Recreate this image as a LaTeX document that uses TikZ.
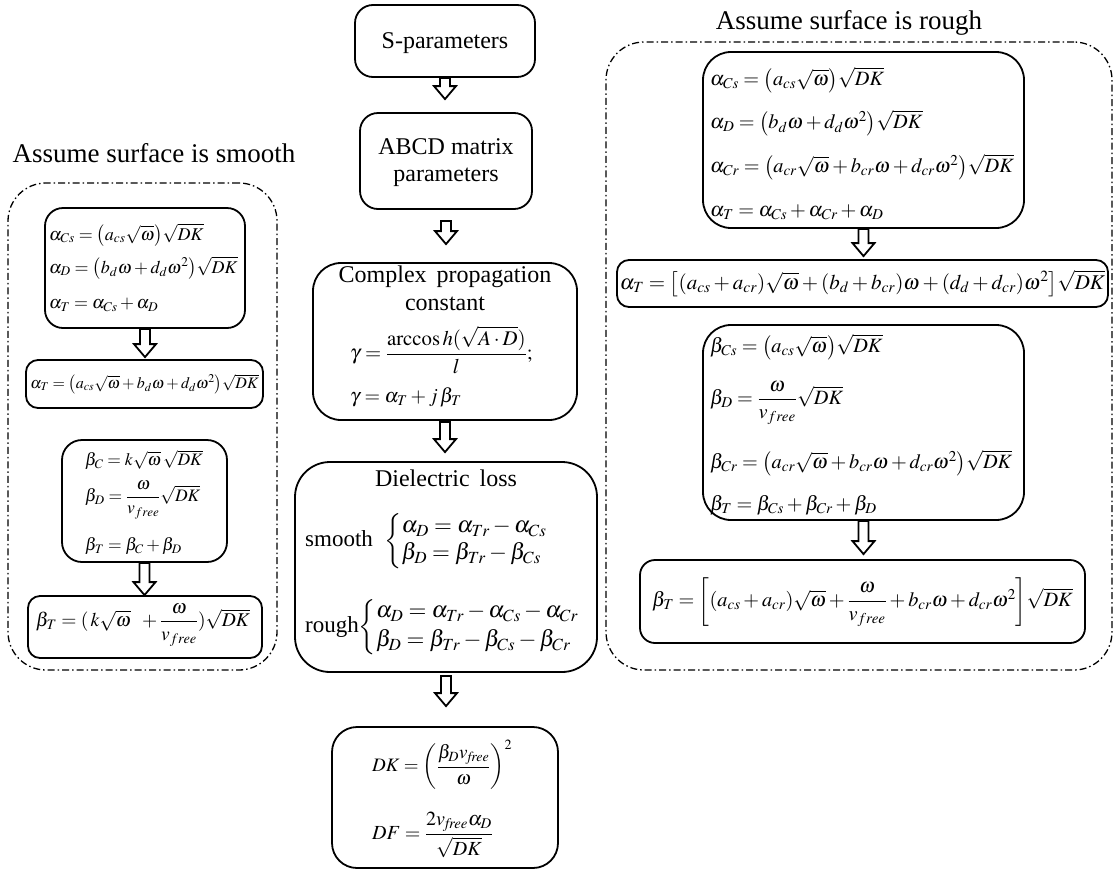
\documentclass[tikz,border=0pt]{standalone}
\usepackage{amsmath}
\usepackage{mathptmx}
\usepackage{fontspec}
\setmainfont{Liberation Serif}
\usetikzlibrary{calc}
\tikzset{
  fbox/.style={draw, line width=1.8pt, rounded corners=#1, inner sep=0pt},
  fbox/.default=18pt,
  region/.style={draw, line width=1.3pt, dash pattern=on 7pt off 3pt on 1.5pt off 3pt, rounded corners=38pt, inner sep=0pt},
  ttl/.style={font=\fontsize{27}{32}\selectfont, inner sep=0pt},
  lbl/.style={font=\fontsize{24}{27}\selectfont, align=center, inner sep=0pt},
  eqL/.style={font=\fontsize{18}{22}\selectfont, inner sep=0pt},
  eqR/.style={font=\fontsize{20.3}{24}\selectfont, inner sep=0pt},
  eqC/.style={font=\fontsize{24}{28}\selectfont, inner sep=0pt},
  blockar/.style={draw, line width=1.8pt, fill=white, line join=miter},
}
\newcommand\blockarrow[4]{%
  \draw[blockar] let \p1=(#1.south), \p2=(#2.north) in
  (\x1-5pt,\y1-#3pt) -- (\x1-5pt,\y2+#4pt+13pt) -- (\x1-11pt,\y2+#4pt+13pt) --
  (\x1,\y2+#4pt) -- (\x1+11pt,\y2+#4pt+13pt) -- (\x1+5pt,\y2+#4pt+13pt) --
  (\x1+5pt,\y1-#3pt) -- cycle;}
\begin{document}
\begin{tikzpicture}[x=1pt,y=-1pt]
\useasboundingbox (0,0) rectangle (1115,873);
% titles and regions
\node[ttl] (tl) at (154,153) {Assume surface is smooth};
\node[ttl] (tr) at (849,23) {Assume surface is rough};
\node[region, minimum width=269, minimum height=487] (DL) at (142.5,426.5) {};
\node[region, minimum width=506, minimum height=628] (DR) at (859,356) {};
% left column
\node[fbox, minimum width=200, minimum height=120] (L1) at (145,268) {};
\node[eqL, anchor=west] (l1a) at (49,235) {$\alpha_{Cs}={\left(a_{cs}\sqrt{\omega}\right)}\sqrt{DK}$};
\node[eqL, anchor=west] (l1b) at (49,268) {$\alpha_{D}={\left(b_{d}\omega+d_{d}\omega^{2}\right)}\sqrt{DK}$};
\node[eqL, anchor=west] (l1c) at (49,305) {$\alpha_{T}=\alpha_{Cs}+\alpha_{D}$};
\node[fbox=12pt, minimum width=237, minimum height=48] (L2) at (144.5,384) {};
\node[eqL, font=\fontsize{16}{19}\selectfont] (l2a) at (144.5,384) {$\alpha_{T}={\left(a_{cs}\sqrt{\omega}+b_{d}\omega+d_{d}\omega^{2}\right)}\sqrt{DK}$};
\node[fbox=20pt, minimum width=165, minimum height=122] (L3) at (144.5,501) {};
\node[eqL, anchor=west, font=\fontsize{17.5}{21}\selectfont] (l3a) at (85,460) {$\beta_{C}=k\sqrt{\omega}\,\sqrt{DK}$};
\node[eqL, anchor=west, font=\fontsize{17.5}{21}\selectfont] (l3b) at (85,500) {$\beta_{D}=\dfrac{\omega}{v_{free}}\sqrt{DK}$};
\node[eqL, anchor=west, font=\fontsize{17.5}{21}\selectfont] (l3c) at (85,546) {$\beta_{T}=\beta_{C}+\beta_{D}$};
\node[fbox=12pt, minimum width=234, minimum height=62] (L4) at (145,627) {};
\node[eqL, font=\fontsize{19.5}{23}\selectfont] (l4a) at (143,625) {$\beta_{T}=(\,k\sqrt{\omega}\;\;+\dfrac{\omega}{v_{free}})\sqrt{DK}$};
% centre column
\node[fbox, minimum width=180, minimum height=72] (C1) at (445,41) {};
\node[lbl] (c1a) at (445,43) {S-parameters};
\node[fbox, minimum width=172, minimum height=96] (C2) at (446,161) {};
\node[lbl] (c2a) at (446,163) {ABCD matrix\\parameters};
\node[fbox=28pt, minimum width=264, minimum height=157] (C3) at (445,341.5) {};
\node[lbl] (c3a) at (445,277) {Complex\, propagation};
\node[lbl] (c3b) at (445,304) {constant};
\node[eqR, anchor=west, font=\fontsize{20.8}{24}\selectfont] (c3c) at (350,350) {$\gamma=\dfrac{\mathrm{arccos}\,h(\sqrt{A\cdot D})}{l};$};
\node[eqR, anchor=west, font=\fontsize{20}{24}\selectfont] (c3d) at (350,397) {$\gamma=\alpha_{T}+j\,\beta_{T}$};
\node[fbox=35pt, minimum width=302, minimum height=210] (C4) at (446,567) {};
\node[lbl] (c4a) at (446,478) {Dielectric\, loss};
\node[eqC, anchor=west] (c4b) at (305,541) {\fontsize{23}{27}\selectfont smooth\ \ $\left\{\begin{array}{@{}l@{}}\alpha_{D}=\alpha_{Tr}-\alpha_{Cs}\\ \beta_{D}=\beta_{Tr}-\beta_{Cs}\end{array}\right.$};
\node[eqC, anchor=west] (c4c) at (305,627) {\fontsize{23}{27}\selectfont rough$\left\{\begin{array}{@{}l@{}}\alpha_{D}=\alpha_{Tr}-\alpha_{Cs}-\alpha_{Cr}\\[2pt] \beta_{D}=\beta_{Tr}-\beta_{Cs}-\beta_{Cr}\end{array}\right.$};
\node[fbox=25pt, minimum width=226, minimum height=141] (C5) at (445,797.5) {};
\node[eqR, anchor=west, font=\fontsize{19}{23}\selectfont] (c5a) at (372,765) {$DK={\left(\dfrac{\beta_{D}v_{\mathit{free}}}{\omega}\right)}^{2}$};
\node[eqR, anchor=west, font=\fontsize{20}{23}\selectfont] (c5b) at (372,835) {$DF=\dfrac{2v_{\mathit{free}}\alpha_{D}}{\sqrt{DK}}$};
% right column
\node[fbox=28pt, minimum width=321, minimum height=176] (R1) at (863.5,140) {};
\node[eqR, anchor=west] (r1a) at (710,80) {$\alpha_{Cs}={\left(a_{cs}\sqrt{\omega}\right)}\sqrt{DK}$};
\node[eqR, anchor=west] (r1b) at (710,123) {$\alpha_{D}={\left(b_{d}\omega+d_{d}\omega^{2}\right)}\sqrt{DK}$};
\node[eqR, anchor=west] (r1c) at (710,167) {$\alpha_{Cr}={\left(a_{cr}\sqrt{\omega}+b_{cr}\omega+d_{cr}\omega^{2}\right)}\sqrt{DK}$};
\node[eqR, anchor=west] (r1d) at (710,212) {$\alpha_{T}=\alpha_{Cs}+\alpha_{Cr}+\alpha_{D}$};
\node[fbox=12pt, minimum width=491, minimum height=47] (R2) at (862.5,283.5) {};
\node[eqR, font=\fontsize{21}{25}\selectfont] (r2a) at (862.5,283.5) {$\alpha_{T}={\left[(a_{cs}+a_{cr})\sqrt{\omega}+(b_{d}+b_{cr})\omega+(d_{d}+d_{cr})\omega^{2}\right]}\sqrt{DK}$};
\node[fbox=28pt, minimum width=321, minimum height=195] (R3) at (863.5,422.5) {};
\node[eqR, anchor=west] (r3a) at (710,347) {$\beta_{Cs}={\left(a_{cs}\sqrt{\omega}\right)}\sqrt{DK}$};
\node[eqR, anchor=west] (r3b) at (710,403) {$\beta_{D}=\dfrac{\omega}{v_{free}}\sqrt{DK}$};
\node[eqR, anchor=west] (r3c) at (710,463) {$\beta_{Cr}={\left(a_{cr}\sqrt{\omega}+b_{cr}\omega+d_{cr}\omega^{2}\right)}\sqrt{DK}$};
\node[eqR, anchor=west] (r3d) at (710,505) {$\beta_{T}=\beta_{Cs}+\beta_{Cr}+\beta_{D}$};
\node[fbox=15pt, minimum width=445, minimum height=83] (R4) at (862.5,601.5) {};
\node[eqR] (r4a) at (862.5,602) {$\beta_{T}={\left[(a_{cs}+a_{cr})\sqrt{\omega}+\dfrac{\omega}{v_{free}}+b_{cr}\omega+d_{cr}\omega^{2}\right]}\sqrt{DK}$};
% arrows
\blockarrow{L1}{L2}{0}{2}
\blockarrow{L3}{L4}{0}{0}
\blockarrow{C1}{C2}{0}{13}
\blockarrow{C2}{C3}{11}{18}
\blockarrow{C3}{C4}{1}{9}
\blockarrow{C4}{C5}{3}{20}
\blockarrow{R1}{R2}{0}{3}
\blockarrow{R3}{R4}{0}{5}
\end{tikzpicture}
\end{document}
